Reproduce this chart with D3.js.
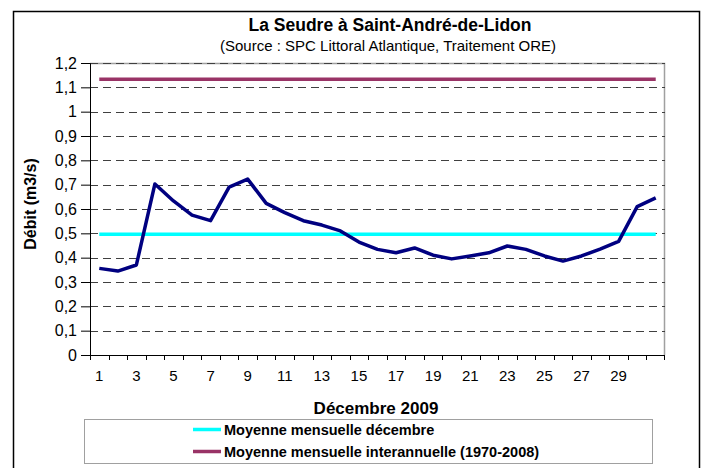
<!DOCTYPE html>
<html>
<head>
<meta charset="utf-8">
<script src="https://cdn.jsdelivr.net/npm/d3@7"></script>
<style>
  body { margin: 0; background: #fff; }
  text { font-family: "Liberation Sans", Arial, sans-serif; }
</style>
</head>
<body>
<div id="chart"></div>
<script>
var svgWidth = 706;
var svgHeight = 468;

// daily values, décembre 2009
var days = d3.range(1, 32);
var debit = [0.356, 0.345, 0.37, 0.703, 0.633, 0.575, 0.552, 0.69, 0.723, 0.623,
             0.585, 0.552, 0.534, 0.51, 0.464, 0.434, 0.42, 0.44, 0.41, 0.395,
             0.407, 0.42, 0.448, 0.434, 0.407, 0.386, 0.407, 0.435, 0.467, 0.61, 0.646];
var moyenneDecembre = 0.496;
var moyenneInterannuelle = 1.133;
var yTicks = [0, 0.1, 0.2, 0.3, 0.4, 0.5, 0.6, 0.7, 0.8, 0.9, 1, 1.1, 1.2];
var xTickLabels = [1, 3, 5, 7, 9, 11, 13, 15, 17, 19, 21, 23, 25, 27, 29];
var legendLabels = ["Moyenne mensuelle décembre", "Moyenne mensuelle interannuelle (1970-2008)"];
var legendColors = ["#00ffff", "#993366"];

var margin = { top: 63, right: 41, bottom: 113, left: 90 };
var width = svgWidth - margin.left - margin.right;
var height = svgHeight - margin.top - margin.bottom;

var svg = d3.select("#chart")
    .append("svg")
    .attr("width", svgWidth)
    .attr("height", svgHeight);

// outer frame
svg.append("rect")
    .attr("x", 13.5).attr("y", 11.5)
    .attr("width", 686).attr("height", 470)
    .attr("fill", "none")
    .attr("stroke", "#000")
    .attr("stroke-width", 1.5);

// titles
svg.append("text")
    .attr("x", 390).attr("y", 31)
    .attr("text-anchor", "middle")
    .attr("font-size", "17.5px")
    .attr("font-weight", "bold")
    .text("La Seudre à Saint-André-de-Lidon");

svg.append("text")
    .attr("x", 388).attr("y", 51)
    .attr("text-anchor", "middle")
    .attr("font-size", "15px")
    .text("(Source : SPC Littoral Atlantique, Traitement ORE)");

var chartGroup = svg.append("g")
    .attr("transform", `translate(${margin.left}, ${margin.top})`);

var xBand = d3.scaleBand()
    .domain(days)
    .range([0, width]);

var x = d => xBand(d) + xBand.bandwidth() / 2;

var y = d3.scaleLinear()
    .domain([0, 1.2])
    .range([height, 0]);

// plot area border (top/right gray)
chartGroup.append("path")
    .attr("d", `M0,0.5H${width - 0.5}V${height}`)
    .attr("fill", "none")
    .attr("stroke", "#a0a0a0")
    .attr("stroke-width", 1.5);

// dashed grid
chartGroup.selectAll(".grid")
    .data(yTicks.filter(d => d > 0))
    .enter()
    .append("line")
    .attr("x1", 0)
    .attr("x2", width)
    .attr("y1", d => Math.round(y(d)) + 0.5)
    .attr("y2", d => Math.round(y(d)) + 0.5)
    .attr("stroke", "#404040")
    .attr("stroke-dasharray", "8,5");

// y axis
var leftAxis = d3.axisLeft(y)
    .tickValues(yTicks)
    .tickSize(9)
    .tickPadding(4)
    .tickFormat(d => String(+d.toFixed(1)).replace(".", ","));

var yAxisG = chartGroup.append("g").call(leftAxis);
yAxisG.select(".domain").attr("stroke", "#000");
yAxisG.selectAll("text").attr("font-size", "16px").attr("fill", "#000").attr("font-family", "Liberation Sans, Arial, sans-serif");

// x axis: ticks between categories, labels every 2 days
var xAxisG = chartGroup.append("g")
    .attr("transform", `translate(0, ${height})`);

xAxisG.append("line")
    .attr("x1", 0).attr("x2", width)
    .attr("y1", 0.5).attr("y2", 0.5)
    .attr("stroke", "#000");

xAxisG.selectAll(".tick")
    .data(days.concat([32]))
    .enter()
    .append("line")
    .attr("x1", d => d <= 31 ? Math.round(xBand(d)) + 0.5 : width - 0.5)
    .attr("x2", d => d <= 31 ? Math.round(xBand(d)) + 0.5 : width - 0.5)
    .attr("y1", 0)
    .attr("y2", 5)
    .attr("stroke", "#000");

xAxisG.selectAll(".lbl")
    .data(xTickLabels)
    .enter()
    .append("text")
    .attr("x", d => x(d))
    .attr("y", 26)
    .attr("text-anchor", "middle")
    .attr("font-size", "15px")
    .text(d => d);

// x axis title
svg.append("text")
    .attr("x", 376).attr("y", 414)
    .attr("text-anchor", "middle")
    .attr("font-size", "17px")
    .attr("font-weight", "bold")
    .text("Décembre 2009");

// y axis title
svg.append("text")
    .attr("transform", "translate(36, 204) rotate(-90)")
    .attr("text-anchor", "middle")
    .attr("font-size", "16px")
    .attr("font-weight", "bold")
    .text("Débit (m3/s)");

// reference lines
chartGroup.append("line")
    .attr("x1", x(1)).attr("x2", x(31))
    .attr("y1", y(moyenneInterannuelle)).attr("y2", y(moyenneInterannuelle))
    .attr("stroke", legendColors[1])
    .attr("stroke-width", 3.5);

chartGroup.append("line")
    .attr("x1", x(1)).attr("x2", x(31))
    .attr("y1", y(moyenneDecembre)).attr("y2", y(moyenneDecembre))
    .attr("stroke", legendColors[0])
    .attr("stroke-width", 3.5);

// daily flow
var line = d3.line()
    .x((d, i) => x(days[i]))
    .y(d => y(d));

chartGroup.append("path")
    .datum(debit)
    .attr("d", line)
    .attr("fill", "none")
    .attr("stroke", "#000080")
    .attr("stroke-width", 3.5)
    .attr("stroke-linejoin", "round");

// legend
var legend = svg.append("g");
legend.append("rect")
    .attr("x", 84.5).attr("y", 419.5)
    .attr("width", 568).attr("height", 44)
    .attr("fill", "#fff")
    .attr("stroke", "#a0a0a0");

var items = legend.selectAll(".item")
    .data(legendLabels)
    .enter()
    .append("g")
    .attr("transform", (d, i) => `translate(193, ${429.5 + i * 22})`);

items.append("line")
    .attr("x1", 0).attr("x2", 28)
    .attr("stroke", (d, i) => legendColors[i])
    .attr("stroke-width", 3.5);

items.append("text")
    .attr("x", 31)
    .attr("y", 5)
    .attr("font-size", "14.5px")
    .attr("font-weight", "bold")
    .text(d => d);
</script>
</body>
</html>
